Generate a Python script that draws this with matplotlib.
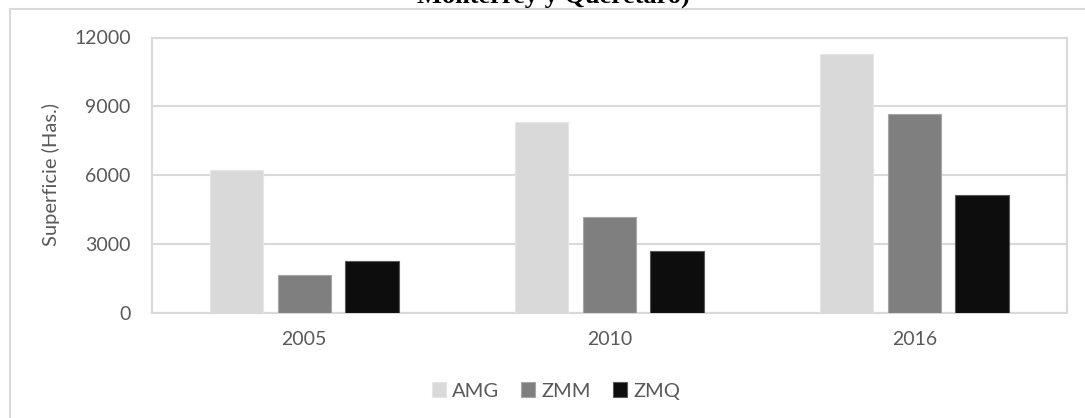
import matplotlib
matplotlib.use("Agg")
import matplotlib.pyplot as plt
from matplotlib.patches import Rectangle
import numpy as np

years = ["2005", "2010", "2016"]
series_names = ["AMG", "ZMM", "ZMQ"]
amg = [6200, 8300, 11300]
zmm = [1650, 4150, 8650]
zmq = [2230, 2680, 5130]
yticks = [0, 3000, 6000, 9000, 12000]

colors = ["#d9d9d9", "#7f7f7f", "#0d0d0d"]
edges = ["#e6e6e6", "#a6a6a6", "#595959"]

plt.rcParams['font.family'] = ['Lato', 'DejaVu Sans']

W, H = 1085, 418
fig = plt.figure(figsize=(W / 100, H / 100), dpi=100)
ax = fig.add_axes([151.7 / W, 1 - 312.5 / H, (1067 - 151.7) / W, (312.5 - 37.5) / H])

x = np.arange(len(years))
bw = 0.175
step = 0.222
for i, (vals, name) in enumerate(zip([amg, zmm, zmq], series_names)):
    ax.bar(x + (i - 1) * step, vals, width=bw, color=colors[i], edgecolor=edges[i],
           linewidth=0.8, label=name, zorder=3)

ax.set_xlim(-0.5, len(years) - 0.5)
ax.set_ylim(0, 12000)
ax.set_yticks(yticks)
ax.set_yticklabels([str(v) for v in yticks])
ax.set_xticks(x)
ax.set_xticklabels(years)
ax.yaxis.grid(True, color="#d9d9d9", linewidth=1.5, zorder=0)
ax.set_axisbelow(True)
for s in ax.spines.values():
    s.set_color("#d9d9d9")
    s.set_linewidth(1.5)
ax.tick_params(axis="both", length=0, labelsize=14, labelcolor="#595959")
ax.tick_params(axis="y", pad=15)
ax.tick_params(axis="x", pad=13)
ax.set_ylabel("Superficie (Has.)", fontsize=14.5, color="#595959", labelpad=10)

leg = fig.legend(loc="center", bbox_to_anchor=(556 / W, 1 - 391 / H), ncol=3,
                 frameon=False, fontsize=14.5, handlelength=0.7, handleheight=0.7,
                 handletextpad=0.3, columnspacing=1.1)
for t in leg.get_texts():
    t.set_color("#595959")

# outer chart border
fig.patches.append(Rectangle((10 / W, -0.05), 1.2, (H - 9) / H + 0.05,
                             transform=fig.transFigure, fill=False,
                             edgecolor="#d9d9d9", linewidth=1.5))

fig.text(553 / W, 1 - 3 / H, "Monterrey y Querétaro)", ha="center", va="baseline",
         fontsize=19, fontweight="bold", family="Liberation Serif", color="black")

fig.savefig("out.png", dpi=100)
